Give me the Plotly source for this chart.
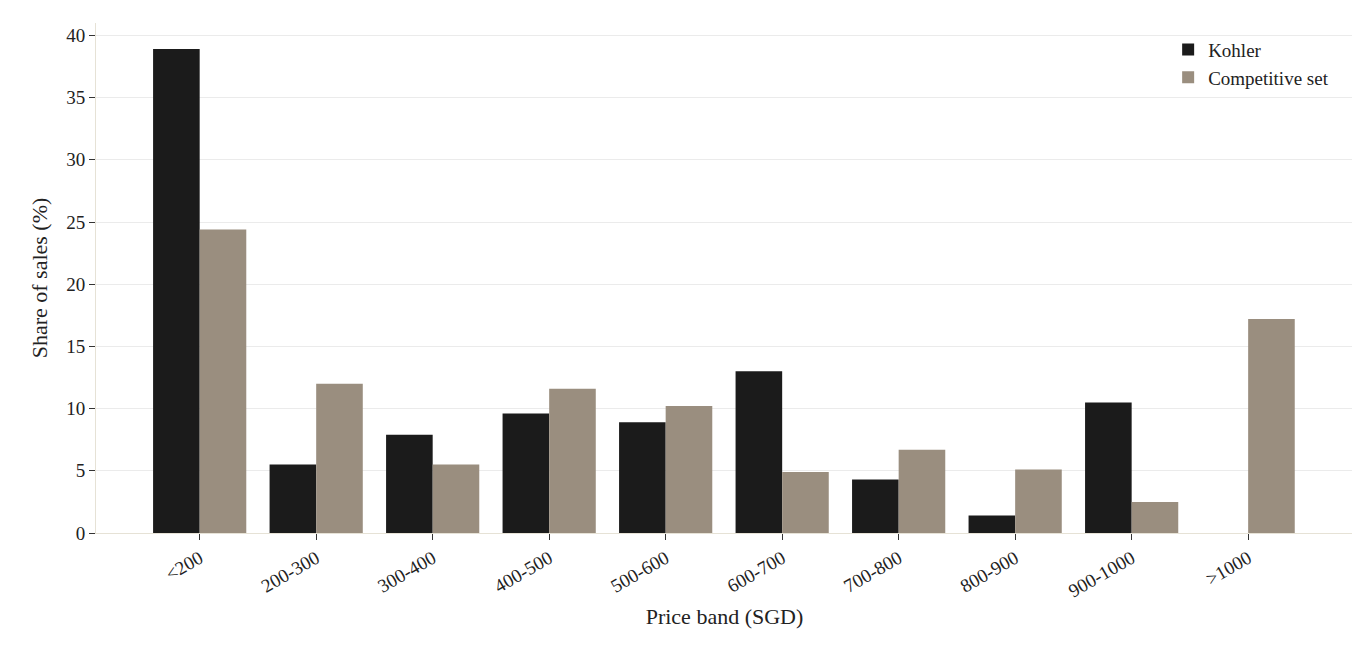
import plotly.graph_objects as go

categories = ["<200","200-300","300-400","400-500","500-600","600-700","700-800","800-900","900-1000",">1000"]
kohler = [38.9,5.5,7.9,9.6,8.9,13.0,4.3,1.4,10.5,0]
competitive = [24.4,12.0,5.5,11.6,10.2,4.9,6.7,5.1,2.5,17.2]

fig = go.Figure()
fig.add_bar(x=categories, y=kohler, name="Kohler", marker_color="#1b1b1b", marker_line_width=0)
fig.add_bar(x=categories, y=competitive, name="Competitive set", marker_color="#9a8e7f", marker_line_width=0)
fig.update_layout(
    width=1360, height=656, barmode="group", bargap=0.2, bargroupgap=0,
    plot_bgcolor="white", paper_bgcolor="white",
    font=dict(family="Liberation Serif, serif", size=18, color="#222"),
    margin=dict(l=88, r=15, t=15, b=131),
    legend=dict(x=0.985, y=0.985, xanchor="right", yanchor="top", bgcolor="rgba(0,0,0,0)", font=dict(size=19)),
    xaxis=dict(title=dict(text="Price band (SGD)", standoff=8), tickangle=-30, showline=True, linecolor="#e6e2d6",
               ticks="outside", ticklen=6, tickcolor="#333", showgrid=False, automargin=False,
               range=[-0.89, 9.9], tickfont=dict(size=19)),
    yaxis=dict(title=dict(text="Share of sales (%)", standoff=12), range=[0, 41], dtick=5, showline=True, linecolor="#e6e2d6",
               ticks="outside", ticklen=6, tickcolor="#333", gridcolor="#ebebeb", zeroline=False, automargin=False,
               tickfont=dict(size=19)),
)
fig.write_html("out.html")
